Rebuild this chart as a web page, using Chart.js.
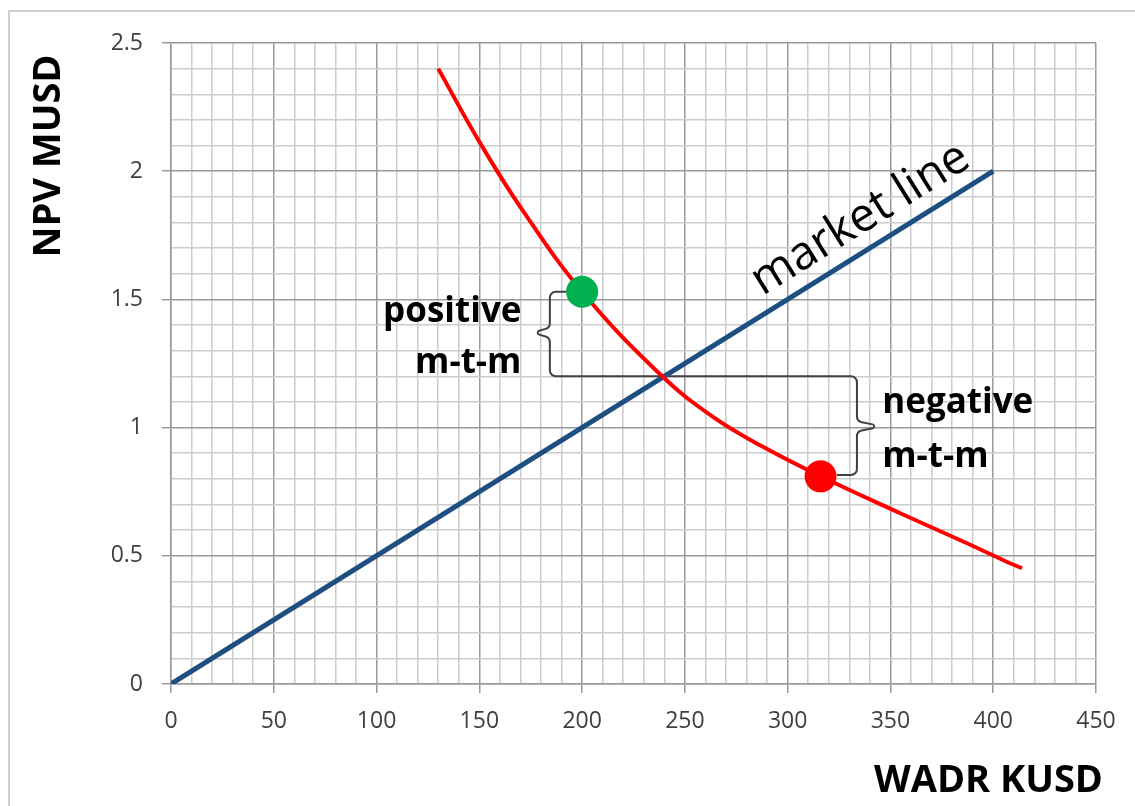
<!DOCTYPE html>
<html>
<head>
<meta charset="utf-8">
<script src="https://cdn.jsdelivr.net/npm/chart.js@4.4.1/dist/chart.umd.min.js"></script>
<style>
  html, body { margin: 0; padding: 0; background: #fff; overflow: hidden; }
  canvas { display: block; }
</style>
</head>
<body>
<canvas id="grafico" width="1135" height="806"></canvas>
<script>
// datos
const marketX = [0, 400];
const marketY = [0, 2];

const curveX = [130, 150, 170, 200, 239, 264, 288, 316, 355, 387, 407, 414];
const curveY = [2.40, 2.115, 1.86, 1.53, 1.20, 1.04, 0.925, 0.81, 0.665, 0.55, 0.475, 0.452];

const greenX = [200];
const greenY = [1.53];
const redX = [316];
const redY = [0.81];

// llave positive / negative (en unidades de datos)
const braceX = [192.5, 184.3, 184.3, 176, 184.3, 184.3, 333.7, 333.7, 346, 333.7, 333.7, 324];
const braceY = [1.53, 1.53, 1.39, 1.37, 1.35, 1.2, 1.2, 1.025, 1.005, 0.985, 0.815, 0.815];

const xMajor = [0, 50, 100, 150, 200, 250, 300, 350, 400, 450];
const yMajor = [0, 0.5, 1, 1.5, 2, 2.5];

const FONT = "'Open Sans', 'Noto Sans', sans-serif";

const toPts = (xs, ys) => xs.map((x, i) => ({ x, y: ys[i] }));
const isMajorX = v => xMajor.includes(Math.round(v));
const isMajorY = v => yMajor.some(m => Math.abs(m - v) < 1e-6);

// dibuja marco, llaves y textos
const extras = {
  id: "extras",
  beforeDraw(chart) {
    const c = chart.ctx;
    c.save();
    c.strokeStyle = "#bfbfbf";
    c.lineWidth = 1.5;
    c.strokeRect(9, 11, 2000, 2000);
    c.restore();
  },
  beforeDatasetsDraw(chart) {
    const c = chart.ctx;
    const sx = chart.scales.x, sy = chart.scales.y;
    const p = braceX.map((x, i) => [sx.getPixelForValue(x), sy.getPixelForValue(braceY[i])]);
    c.save();
    c.strokeStyle = "#404040";
    c.lineWidth = 2;
    c.beginPath();
    c.moveTo(p[0][0], p[0][1]);
    for (let i = 1; i < p.length - 1; i++) {
      const r = (i === 3 || i === 8) ? 2 : 6;
      c.arcTo(p[i][0], p[i][1], p[i + 1][0], p[i + 1][1], r);
    }
    c.lineTo(p[p.length - 1][0], p[p.length - 1][1]);
    c.stroke();
    c.restore();
  },
  afterDraw(chart) {
    const c = chart.ctx;
    const sx = chart.scales.x, sy = chart.scales.y;
    c.save();
    c.fillStyle = "#000";

    // textos de las llaves
    c.font = "bold 35px " + FONT;
    c.textBaseline = "alphabetic";
    c.textAlign = "right";
    c.fillText("positive", sx.getPixelForValue(170.5), sy.getPixelForValue(1.412));
    c.fillText("m-t-m", sx.getPixelForValue(170.5), sy.getPixelForValue(1.213));
    c.textAlign = "left";
    c.fillText("negative", sx.getPixelForValue(346), sy.getPixelForValue(1.057));
    c.fillText("m-t-m", sx.getPixelForValue(346), sy.getPixelForValue(0.846));

    // market line
    const x0 = sx.getPixelForValue(marketX[0]), y0 = sy.getPixelForValue(marketY[0]);
    const x1 = sx.getPixelForValue(marketX[1]), y1 = sy.getPixelForValue(marketY[1]);
    const ang = Math.atan2(y1 - y0, x1 - x0);
    c.save();
    c.translate(sx.getPixelForValue(343), sy.getPixelForValue(1.715));
    c.rotate(ang);
    c.font = "47px " + FONT;
    c.textAlign = "center";
    c.fillText("market line", 0, -16);
    c.restore();

    // títulos de ejes
    c.font = "bold 38px " + FONT;
    c.textAlign = "right";
    c.fillText("WADR KUSD", 1103, 792);
    c.save();
    c.translate(60, 156);
    c.rotate(-Math.PI / 2);
    c.textAlign = "center";
    c.fillText("NPV MUSD", 0, 0);
    c.restore();
    c.restore();
  }
};

const ctx = document.getElementById("grafico").getContext("2d");

new Chart(ctx, {
  type: "scatter",
  data: {
    datasets: [
      {
        data: toPts(greenX, greenY),
        pointRadius: 16,
        pointHoverRadius: 16,
        pointBackgroundColor: "#00b050",
        pointBorderWidth: 0,
        order: 0
      },
      {
        data: toPts(redX, redY),
        pointRadius: 16,
        pointHoverRadius: 16,
        pointBackgroundColor: "#ff0000",
        pointBorderWidth: 0,
        order: 0
      },
      {
        data: toPts(marketX, marketY),
        showLine: true,
        borderColor: "#1f4e80",
        borderWidth: 5,
        pointRadius: 0,
        order: 2
      },
      {
        data: toPts(curveX, curveY),
        showLine: true,
        borderColor: "#ff0000",
        borderWidth: 4,
        pointRadius: 0,
        tension: 0.4,
        order: 1
      }
    ]
  },
  options: {
    responsive: false,
    animation: false,
    layout: { padding: { top: 43, right: 39, bottom: 0, left: 0 } },
    plugins: { legend: { display: false }, tooltip: { enabled: false } },
    scales: {
      x: {
        type: "linear",
        min: 0,
        max: 450,
        afterFit: s => { s.height = 122; },
        ticks: {
          stepSize: 10,
          autoSkip: false,
          maxRotation: 0,
          padding: 15,
          color: "#404040",
          font: { family: FONT, size: 23 },
          callback: v => isMajorX(v) ? String(Math.round(v)) : ""
        },
        grid: {
          lineWidth: 1.5,
          tickLength: 9,
          color: c => isMajorX(c.tick.value) ? "#9a9a9a" : "#cccccc",
          tickColor: c => isMajorX(c.tick.value) ? "#9a9a9a" : "rgba(0,0,0,0)"
        },
        border: { color: "#9a9a9a", width: 1.5 }
      },
      y: {
        type: "linear",
        min: 0,
        max: 2.5,
        afterFit: s => { s.width = 171; },
        ticks: {
          stepSize: 0.1,
          autoSkip: false,
          padding: 19,
          color: "#404040",
          font: { family: FONT, size: 23 },
          callback: v => isMajorY(v) ? String(Number(v.toFixed(1))) : ""
        },
        grid: {
          lineWidth: 1.5,
          tickLength: 9,
          color: c => isMajorY(c.tick.value) ? "#9a9a9a" : "#cccccc",
          tickColor: c => isMajorY(c.tick.value) ? "#9a9a9a" : "rgba(0,0,0,0)"
        },
        border: { color: "#9a9a9a", width: 1.5 }
      }
    }
  },
  plugins: [extras]
});
</script>
</body>
</html>
